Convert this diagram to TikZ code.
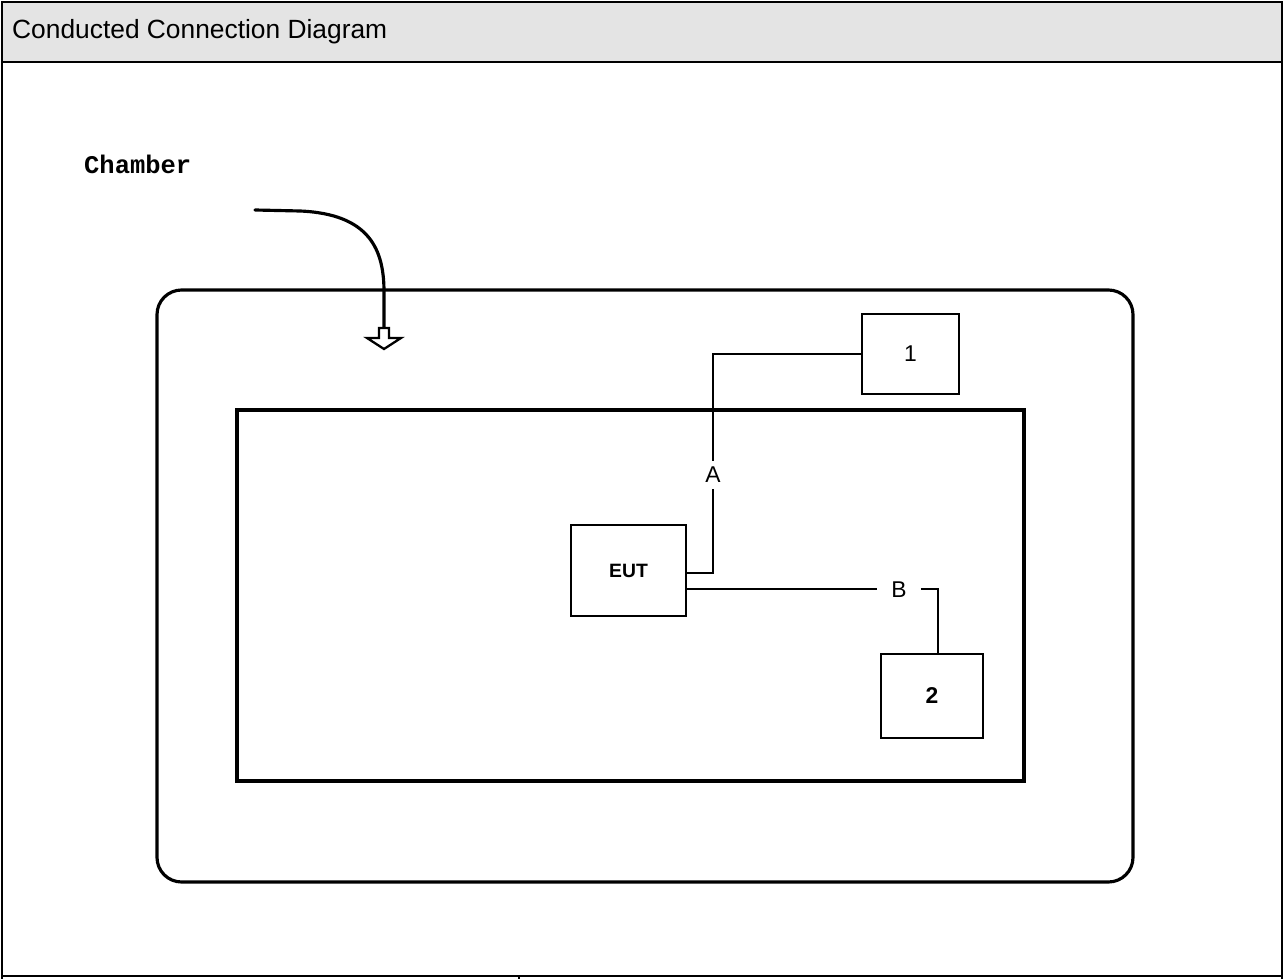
\documentclass[tikz,border=0pt]{standalone}
\usepackage{fontspec}
\setmainfont{Liberation Sans}
\newfontfamily\chamberfont{Liberation Mono}
\usetikzlibrary{arrows.meta,calc,positioning}
\definecolor{CCDInk}{HTML}{000000}
\definecolor{CCDHead}{HTML}{E4E4E4}
\begin{document}
\begin{tikzpicture}[
      x=0.02cm,y=-0.02cm,
      frame/.style={draw=CCDInk,line width=1.2pt},
      wall/.style={draw=CCDInk,line width=1.8pt},
      unit/.style={draw=CCDInk,line width=0.8pt,inner sep=0pt,font=\fontsize{13}{15}\selectfont},
      cable/.style={draw=CCDInk,line width=0.9pt},
      tag/.style={inner sep=0pt,font=\fontsize{13}{15}\selectfont}
    ]
    \useasboundingbox (0,0) rectangle (1284,979);
    % table frame
    \fill[CCDHead] (2,2) rectangle (1282,62);
    \draw[frame] (2,979) -- (2,2) -- (1282,2) -- (1282,979);
    \draw[frame] (2,62) -- (1282,62);
    \draw[frame] (2,976) -- (1282,976);
    \draw[frame] (519,976) -- (519,979);
    \node[anchor=west,font=\fontsize{15}{18}\selectfont] (title) at (6,32)
      {Conducted Connection Diagram};

    % chamber
    \node[anchor=west,font=\chamberfont\bfseries\fontsize{14.5}{17}\selectfont] (chlabel) at (78,164) {Chamber};
    \draw[wall,rounded corners=14pt] (157,290) rectangle (1133,882);
    \draw[draw=CCDInk,line width=2.2pt] (237,410) rectangle (1024,781);
    \coordinate (curvestart) at (255,210);
    \coordinate (curveend) at (384,332);
    \draw[wall,line cap=round] (curvestart) -- (300,211)
      .. controls (370,214) and (384,250) .. (384,292) -- (curveend);
    \draw[draw=CCDInk,line width=1.3pt,fill=white,line join=miter]
      (379,328) -- (389,328) -- (389,338) -- (401,338) -- (384,349)
      -- (367,338) -- (379,338) -- cycle;

    % units
    \node[unit,minimum width=2.3cm,minimum height=1.82cm,font=\bfseries\fontsize{11}{13}\selectfont]
      (eut) at (628.5,570.5) {EUT};
    \node[unit,minimum width=1.94cm,minimum height=1.6cm] (one) at (910.5,354) {1};
    \node[unit,minimum width=2.04cm,minimum height=1.68cm,font=\bfseries\fontsize{13}{15}\selectfont]
      (two) at (932,696) {2};

    % cables
    \node[tag,minimum height=0.56cm] (A) at (713,475) {A};
    \node[tag,minimum width=0.86cm] (B) at (899,590) {B};
    \coordinate (eutA) at ([yshift=-0.05cm]eut.east);
    \coordinate (eutB) at ([yshift=-0.37cm]eut.east);
    \draw[cable] (eutA) -| (A.south);
    \draw[cable] (A.north) |- (one.west);
    \draw[cable] (eutB) -- (eutB -| B.west);
    \draw[cable] (B.east |- eutB) -| ([xshift=0.12cm]two.north);
  \end{tikzpicture}
\end{document}
